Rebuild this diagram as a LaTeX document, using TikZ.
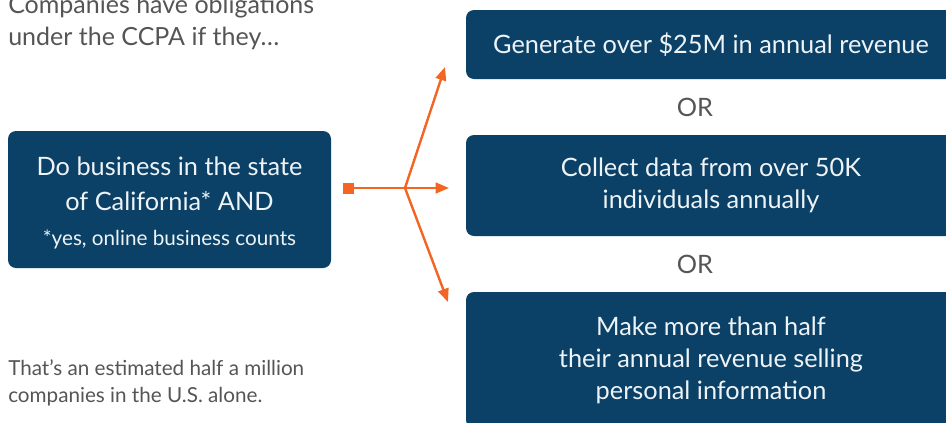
\documentclass[tikz,border=0pt]{standalone}
\usepackage{fontspec}
\setmainfont{Lato}
\usetikzlibrary{arrows.meta,positioning,calc}

\definecolor{navy}{HTML}{0B4166}
\definecolor{ccpaorange}{HTML}{F26522}
\definecolor{greytext}{HTML}{555555}
\definecolor{boxtext}{HTML}{EEF3F7}

\begin{document}
\begin{tikzpicture}[x=0.75pt, y=-0.75pt, >={Triangle[length=10pt, width=8pt]}]
        \tikzset{
            box/.style={fill=navy, rounded corners=6pt, text=boxtext, align=center, inner sep=0pt, font=\fontsize{19}{24}\selectfont},
            note/.style={text=greytext, align=left, inner sep=0pt, anchor=base west},
            orlabel/.style={text=greytext, inner sep=0pt, font=\fontsize{19}{24}\selectfont},
            link/.style={draw=ccpaorange, line width=1.8pt},
        }
        \useasboundingbox (0,0) rectangle (946,422);
        \clip (0,0) rectangle (946,422);

        % Intro text (runs off the top edge)
        \node [note, font=\fontsize{18.75}{24}\selectfont] (intro) at (8,45) {Companies have obligations\\under the CCPA if they…};

        % Condition on the left
        \node [box, minimum width=242.25pt, minimum height=102.75pt] (state) at (169.5,199.5)
            {\rule{0pt}{19pt}Do business in the state\\[2pt]of California* AND\\[2.5pt]{\fontsize{15.5}{18}\selectfont *yes, online business counts}};

        % Footnote
        \node [note, font=\fontsize{15.5}{20.25}\selectfont] (estimate) at (8,402) {That’s an estimated half a million\\companies in the U.S. alone.};

        % Thresholds on the right
        \node [box, minimum width=367.5pt, minimum height=51.75pt] (revenue) at (711,44.5)
            {Generate over \$25M in annual revenue};
        \node [box, minimum width=367.5pt, minimum height=75.75pt] (data) at (711,185.5)
            {Collect data from over 50K\\individuals annually};
        \node [box, minimum width=367.5pt, minimum height=102pt] (selling) at (711,360)
            {Make more than half\\their annual revenue selling\\personal information};

        % OR between the thresholds
        \node [orlabel, xshift=-12pt] (or1) at ($(revenue.south)!0.5!(data.north)$) {OR};
        \node [orlabel, xshift=-12pt] (or2) at ($(data.south)!0.5!(selling.north)$) {OR};

        % Forking arrow
        \node [fill=ccpaorange, minimum size=8.25pt, inner sep=0pt] (sq) at (348.5,188) {};
        \coordinate (fork) at (405,188);
        \coordinate (tiprevenue) at (445,67);
        \coordinate (tipdata) at (449,188);
        \coordinate (tipselling) at (448,302);

        \draw [link] (sq) -- (fork);
        \draw [link, ->] (fork) -- (tiprevenue);
        \draw [link, ->] (fork) -- (tipdata);
        \draw [link, ->] (fork) -- (tipselling);
    \end{tikzpicture}
\end{document}
